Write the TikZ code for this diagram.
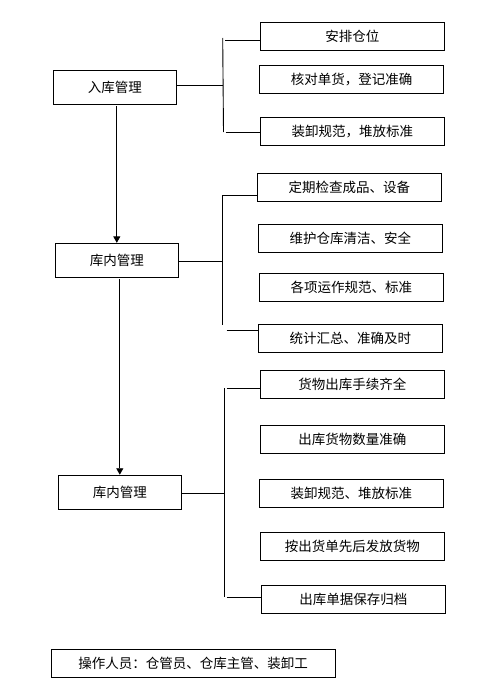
\documentclass[tikz,border=0pt]{standalone}
\usepackage{fontspec}
\setmainfont{Noto Sans CJK SC}
\usetikzlibrary{arrows.meta}
\tikzset{
  box/.style={draw=black, line width=0.9pt, rectangle, inner sep=0pt, align=center,
    font=\fontsize{13.5}{16}\selectfont},
  mainbox/.style={box, minimum width=123pt, minimum height=34pt},
  itembox/.style={box, minimum width=184pt, minimum height=28pt},
  link/.style={line width=0.9pt, black},
  flow/.style={line width=0.9pt, black, -{Triangle[width=7pt,length=6.5pt]}}
}
\begin{document}
\begin{tikzpicture}[x=1pt,y=-1pt]
\useasboundingbox (0,0) rectangle (478,685);
% main boxes
\node[mainbox] (A1) at (114.8,87.3) {入库管理};
\node[mainbox] (A2) at (116.8,260.3) {库内管理};
\node[mainbox] (A3) at (119.8,492.2) {库内管理};
% group 1
\node[itembox] (B1) at (352.3,36.3) {安排仓位};
\node[itembox] (B2) at (351.5,79.3) {核对单货，登记准确};
\node[itembox] (B3) at (352.3,131.3) {装卸规范，堆放标准};
% group 2
\node[itembox] (C1) at (349.3,187.3) {定期检查成品、设备};
\node[itembox] (C2) at (350.3,238.3) {维护仓库清洁、安全};
\node[itembox] (C3) at (351.3,287.3) {各项运作规范、标准};
\node[itembox] (C4) at (350.3,338.3) {统计汇总、准确及时};
% group 3
\node[itembox] (D1) at (352.3,384.3) {货物出库手续齐全};
\node[itembox] (D2) at (352.3,439.3) {出库货物数量准确};
\node[itembox] (D3) at (351.3,493) {装卸规范、堆放标准};
\node[itembox] (D4) at (352.3,546.3) {按出货单先后发放货物};
\node[itembox] (D5) at (353.3,599.3) {出库单据保存归档};
% bottom note
\node[box, minimum width=284.3pt, minimum height=28pt] (E) at (193.2,663.3) {操作人员：仓管员、仓库主管、装卸工};

% bracket 1
\coordinate (j1t) at (222.7,38);
\coordinate (j1b) at (223.5,132);
\coordinate (j1m) at (222.7,85);
\coordinate (j1a) at (225,40);
\coordinate (j1c) at (225.7,132);
\draw[link] (j1t) -- (j1b);
\draw[link] (A1.east |- j1m) -- (j1m);
\draw[link] (j1a) -- (j1a -| B1.west);
\draw[link] (j1c) -- (j1c -| B3.west);
% bracket 2
\coordinate (j2t) at (222.7,195);
\coordinate (j2b) at (222.7,325);
\coordinate (j2m) at (222.7,261);
\coordinate (j2c) at (226.7,330);
\draw[link] (j2t) -- (j2b);
\draw[link] (A2.east |- j2m) -- (j2m);
\draw[link] (j2t) -- (j2t -| C1.west);
\draw[link] (j2c) -- (j2c -| C4.west);
% bracket 3
\coordinate (j3t) at (224,388.3);
\coordinate (j3b) at (224,596.7);
\coordinate (j3m) at (224,493.3);
\coordinate (j3a) at (226.7,388.3);
\coordinate (j3c) at (226.7,597.3);
\draw[link] (j3t) -- (j3b);
\draw[link] (A3.east |- j3m) -- (j3m);
\draw[link] (j3a) -- (j3a -| D1.west);
\draw[link] (j3c) -- (j3c -| D5.west);
% flow arrows
\draw[flow] ([xshift=2pt,yshift=-1.5pt]A1.south) -- (A2.north);
\draw[flow] ([xshift=3pt,yshift=-1pt]A2.south) -- (A3.north);
\end{tikzpicture}
\end{document}
